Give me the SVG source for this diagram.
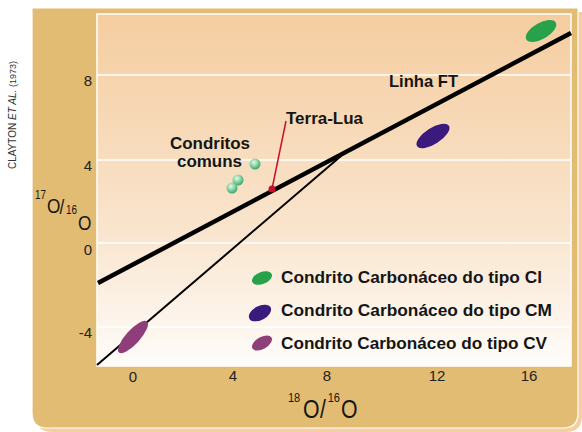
<svg xmlns="http://www.w3.org/2000/svg" width="582" height="432" viewBox="0 0 582 432">
  <defs>
    <linearGradient id="plotGrad" x1="0" y1="0" x2="0" y2="1">
      <stop offset="0" stop-color="#f5cda0"/>
      <stop offset="0.6" stop-color="#f9e4cc"/>
      <stop offset="1" stop-color="#fefcfa"/>
    </linearGradient>
    <radialGradient id="sphere" cx="0.4" cy="0.35" r="0.65">
      <stop offset="0" stop-color="#e6f8ea"/>
      <stop offset="0.5" stop-color="#8fd6a8"/>
      <stop offset="1" stop-color="#3aa86a"/>
    </radialGradient>
    <style>
      .lbl { font-family: "Liberation Sans", Arial, sans-serif; font-weight: bold; fill: #151515; }
      .tick { font-family: "Liberation Sans", Arial, sans-serif; font-size: 15px; fill: #222; }
      .grid { stroke: #ffffff; stroke-width: 1.3; }
      .big { font-family: "Liberation Sans", Arial, sans-serif; fill: #151515; }
      .ci { fill: #27a24a; }
      .cm { fill: #3a1a7c; }
      .cv { fill: #8e3f7a; }
    </style>
  </defs>

  <!-- frame -->
  <g id="frame">
    <path d="M36 12 H582 V416 Q582 432 566 432 H52 Q36 432 36 416 Z" fill="#f5cfa2"/>
    <path d="M32 8 H578 V413 Q578 428 563 428 H47 Q32 428 32 413 Z" fill="#e3bc73" stroke="#ffffff" stroke-width="1.2"/>
    <rect x="97" y="14" width="474" height="352" fill="url(#plotGrad)" stroke="#ffffff" stroke-width="1.5"/>
    <line class="grid" x1="97" y1="75" x2="571" y2="75"/>
    <line class="grid" x1="97" y1="160" x2="571" y2="160"/>
    <line class="grid" x1="97" y1="243" x2="571" y2="243"/>
    <line class="grid" x1="97" y1="327" x2="571" y2="327"/>
  </g>

  <!-- axes labels -->
  <g id="yticks" class="tick" text-anchor="end">
    <text x="92" y="86">8</text>
    <text x="92" y="171">4</text>
    <text x="92" y="255">0</text>
    <text x="92" y="338">-4</text>
  </g>
  <g id="xticks" class="tick" text-anchor="middle">
    <text x="133" y="382">0</text>
    <text x="233" y="381">4</text>
    <text x="327" y="381">8</text>
    <text x="437" y="381">12</text>
    <text x="529" y="381">16</text>
  </g>

  <g id="ylabel">
    <text class="big" transform="scale(0.82 1)"><tspan x="42.7" y="199" font-size="12">17</tspan><tspan x="57.3" y="213" font-size="21">O</tspan><tspan x="72.6" y="214" font-size="21">/</tspan><tspan x="80.5" y="214" font-size="12">16</tspan><tspan x="95.1" y="230" font-size="21">O</tspan></text>
  </g>
  <g id="xlabel">
    <text class="big" transform="scale(0.85 1)"><tspan x="338.8" y="402" font-size="13">18</tspan><tspan x="356.5" y="418" font-size="25">O</tspan><tspan x="376.5" y="418" font-size="25">/</tspan><tspan x="385.5" y="402" font-size="13">16</tspan><tspan x="401.2" y="418" font-size="25">O</tspan></text>
  </g>

  <text id="source" transform="translate(16 115) rotate(-90)" text-anchor="middle" font-family="'Liberation Sans', Arial, sans-serif" font-size="10" fill="#333">CLAYTON <tspan font-style="italic">ET AL.</tspan> <tspan font-size="9">(1973)</tspan></text>

  <!-- connectors / lines -->
  <g id="connectors">
    <line x1="97" y1="365" x2="341" y2="156" stroke="#000" stroke-width="2"/>
    <line x1="98" y1="283" x2="571" y2="33" stroke="#000" stroke-width="4.5"/>
    <line x1="272" y1="189" x2="286" y2="121" stroke="#c8102e" stroke-width="1.5"/>
  </g>

  <!-- data -->
  <g id="ci-data"><ellipse class="ci" cx="541" cy="31" rx="17" ry="8" transform="rotate(-30 541 31)"/></g>
  <g id="cm-data"><ellipse class="cm" cx="433" cy="136" rx="19" ry="8" transform="rotate(-33 433 136)"/></g>
  <g id="cv-data"><ellipse class="cv" cx="133" cy="337" rx="21" ry="7" transform="rotate(-48 133 337)"/></g>

  <g id="condritos-comuns">
    <circle cx="255" cy="164" r="5.5" fill="url(#sphere)"/>
    <circle cx="238" cy="180" r="5.5" fill="url(#sphere)"/>
    <circle cx="232" cy="188" r="5.5" fill="url(#sphere)"/>
    <text class="lbl" x="170" y="149" font-size="16" textLength="80" lengthAdjust="spacingAndGlyphs">Condritos</text>
    <text class="lbl" x="177" y="167" font-size="16" textLength="65" lengthAdjust="spacingAndGlyphs">comuns</text>
  </g>

  <g id="terra-lua">
    <circle cx="272" cy="189" r="3.5" fill="#c8102e"/>
    <text class="lbl" x="286" y="124" font-size="17" textLength="77" lengthAdjust="spacingAndGlyphs">Terra-Lua</text>
  </g>

  <g id="linha-ft">
    <text class="lbl" x="389" y="87" font-size="17" textLength="69" lengthAdjust="spacingAndGlyphs">Linha FT</text>
  </g>

  <!-- legend -->
  <g id="legend-ci">
    <ellipse class="ci" cx="262" cy="278" rx="10.5" ry="6" transform="rotate(-22 262 278)"/>
    <text class="lbl" x="281" y="283" font-size="17" textLength="261" lengthAdjust="spacingAndGlyphs">Condrito Carbonáceo do tipo CI</text>
  </g>
  <g id="legend-cm">
    <ellipse class="cm" cx="260" cy="313" rx="12" ry="7" transform="rotate(-28 260 313)"/>
    <text class="lbl" x="281" y="316" font-size="17" textLength="271" lengthAdjust="spacingAndGlyphs">Condrito Carbonáceo do tipo CM</text>
  </g>
  <g id="legend-cv">
    <ellipse class="cv" cx="262" cy="343" rx="11" ry="6" transform="rotate(-30 262 343)"/>
    <text class="lbl" x="281" y="349" font-size="17" textLength="266" lengthAdjust="spacingAndGlyphs">Condrito Carbonáceo do tipo CV</text>
  </g>
</svg>
